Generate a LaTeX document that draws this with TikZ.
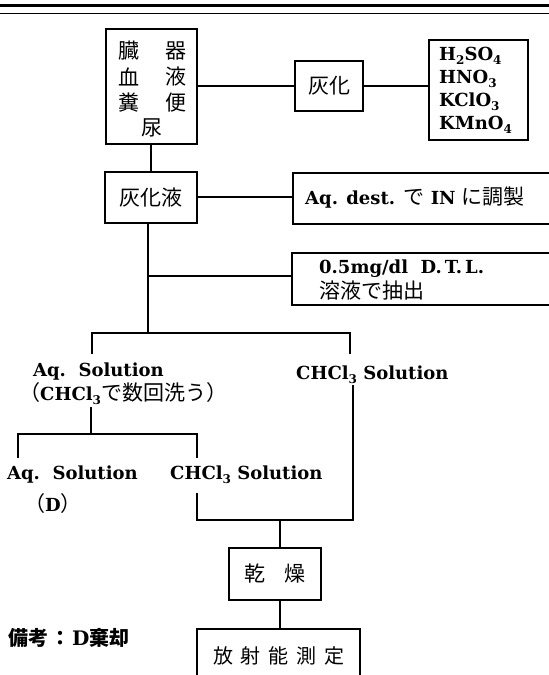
\documentclass[tikz,border=0pt]{standalone}
\usepackage{fontspec}
\setmainfont{DejaVu Serif}
\newfontfamily\cjk{Noto Sans CJK JP}
\newcommand\dn[1]{\raisebox{-0.4ex}{\fontsize{12}{12}\selectfont #1}}
\newcommand\jpt[1]{{\cjk\mdseries\fontsize{21}{21}\selectfont #1}}
\begin{document}
\begin{tikzpicture}[x=1pt,y=-1pt,
  ln/.style={line width=1.1pt},
  bx/.style={draw,line width=1.1pt,inner sep=0pt},
  jp/.style={font=\cjk\fontsize{21}{21}\selectfont,inner sep=0pt},
  lat/.style={font=\bfseries\fontsize{18}{18}\selectfont,inner sep=0pt,text height=13pt,text depth=0pt},
  chem/.style={font=\bfseries\fontsize{18}{18}\selectfont,inner sep=0pt,anchor=west,text height=13pt,text depth=0pt}]
\useasboundingbox (0,0) rectangle (549,675);
% top rules
\draw[line width=3pt] (0,5) -- (549,5);
\draw[line width=1pt] (0,13) -- (549,13);
% box 1
\node[bx,minimum width=91pt,minimum height=115pt] (b1) at (151.5,86.5) {};
\node[jp] (t1) at (129,51) {臓};
\node[jp] (t2) at (176,51) {器};
\node[jp] (t3) at (129,77) {血};
\node[jp] (t4) at (176,77) {液};
\node[jp] (t5) at (129,103) {糞};
\node[jp] (t6) at (176,103) {便};
\node[jp] (t7) at (152,128) {尿};
% ashing
\node[bx,minimum width=68pt,minimum height=50pt,jp] (ash) at (329,86) {灰化};
\node[bx,minimum width=99pt,minimum height=100pt] (chem) at (478.5,90) {};
\node[chem] (c1) at (439,54) {H\dn{2}SO\dn{4}};
\node[chem] (c2) at (439,77) {HNO\dn{3}};
\node[chem] (c3) at (439,100) {KClO\dn{3}};
\node[chem] (c4) at (439,123) {KMnO\dn{4}};
\draw[ln] (b1.east |- 0,86) -- (ash.west |- 0,86);
\draw[ln] (ash.east |- 0,86) -- (chem.west |- 0,86);
% ash liquid
\node[bx,minimum width=92pt,minimum height=51pt,jp] (al) at (151,197.5) {灰化液};
\draw[ln] (b1.south -| 151,0) -- (al.north -| 151,0);
% Aq dest box (open right)
\coordinate (aqL) at (293,197);
\draw[ln] (549,173) -- (293,173) -- (293,224) -- (549,224);
\node[lat,anchor=west] (aqd) at (305,198) {Aq. dest. \jpt{で} IN \jpt{に調製}};
\draw[ln] (al.east |- aqL) -- (aqL);
% DTL box (open right)
\coordinate (dtlL) at (292,276);
\draw[ln] (549,253) -- (292,253) -- (292,305) -- (549,305);
\node[lat,anchor=west] (dtl1) at (319,267) {0.5mg/dl\ \ D.\,T.\,L.};
\node[anchor=west,jp] (dtl2) at (319,291) {溶液で抽出};
\coordinate (trB) at (148,276);
\coordinate (trE) at (148,333);
\draw[ln] (al.south -| trE) -- (trE);
\draw[ln] (trB) -- (dtlL);
% first split
\draw[ln] (92,354) -- (92,333) -- (350,333) -- (350,354);
\node[lat,anchor=west] (aq1) at (33,370) {Aq.\ \ Solution};
\node[lat,anchor=west] (aq1b) at (19,394) {\jpt{（}CHCl\dn{3}\jpt{で数回洗う）}};
\node[lat,anchor=west] (ch1) at (296,373) {CHCl\dn{3} Solution};
% second split
\coordinate (s2) at (91,434);
\draw[ln] (91,407) -- (s2);
\draw[ln] (18,458) -- (18,434) -- (197,434) -- (197,458);
\node[lat,anchor=west] (aq2) at (7,473) {Aq.\ \ Solution};
\node[lat,anchor=west] (ch2) at (170,473) {CHCl\dn{3} Solution};
\node[lat,anchor=west] (dd) at (24,505) {\jpt{（}D\jpt{）}};
% collector
\coordinate (cb) at (280,520);
\draw[ln] (197,493) -- (197,520) -- (353,520) -- (353,385);
% dry
\node[bx,minimum width=92pt,minimum height=52pt,jp] (dry) at (275,574) {乾\hspace{0.9em}燥};
\draw[ln] (cb) -- (dry.north -| cb);
% measure (open bottom)
\coordinate (mt) at (280,629);
\draw[ln] (197,680) -- (197,629) -- (360,629) -- (360,680);
\node[jp,font=\cjk\fontsize{20}{20}\selectfont] (meas) at (279,656) {放\hspace{0.4em}射\hspace{0.4em}能\hspace{0.4em}測\hspace{0.4em}定};
\draw[ln] (dry.south -| mt) -- (mt);
% note
\node[anchor=west,inner sep=0pt,font=\cjk\bfseries\fontsize{20}{20}\selectfont] (note) at (8,638) {備考\hspace{0.1em}：\hspace{0.1em}{\rmfamily D}棄却};
\end{tikzpicture}
\end{document}
